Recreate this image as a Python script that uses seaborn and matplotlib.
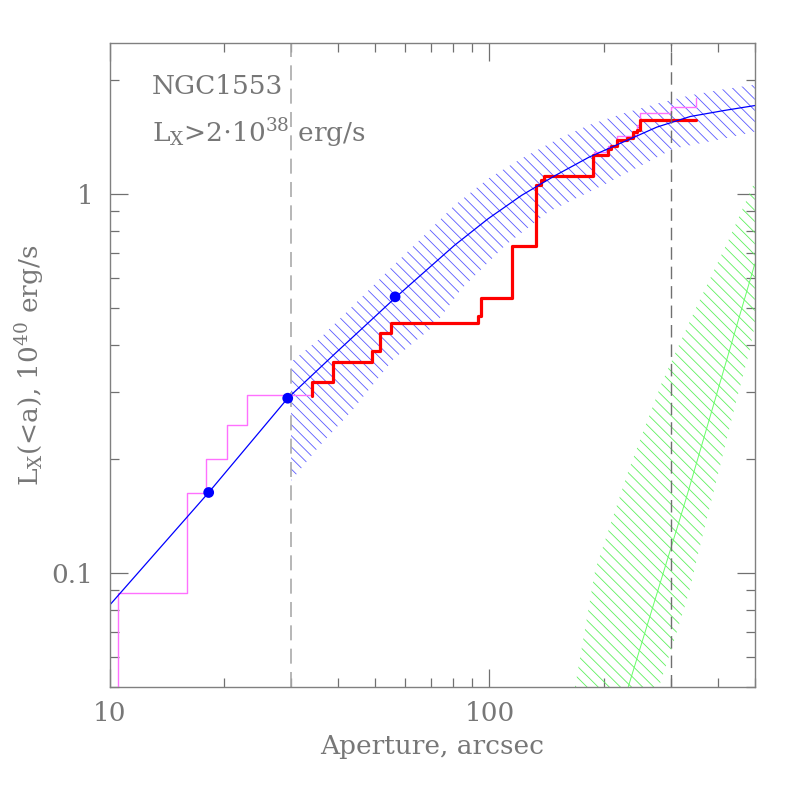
import numpy as np
import pandas as pd
import matplotlib
matplotlib.use('Agg')
import matplotlib.pyplot as plt
from matplotlib.ticker import FuncFormatter, NullFormatter, LogLocator
import seaborn as sns

sns.set_style('ticks')
plt.rcParams['font.family'] = ['DejaVu Serif']
plt.rcParams['mathtext.fontset'] = 'dejavuserif'
plt.rcParams['hatch.linewidth'] = 0.6

# 模型曲线 (蓝色)
model_x = [10, 18.2, 29.4, 39.5, 56.8, 80.8, 99.2, 121.5, 149.5, 183, 225, 276, 338, 416, 500]
model_y = [0.0824, 0.163, 0.289, 0.382, 0.535, 0.731, 0.86, 0.991, 1.12, 1.25, 1.37, 1.50, 1.60, 1.66, 1.71]

# 蓝色点
pts_x = [18.2, 29.4, 56.4]
pts_y = [0.163, 0.289, 0.535]

# 蓝色误差带
band_up_x = [30, 35.6, 43.7, 53.7, 65.9, 80.8, 99.2, 121.5, 149.5, 183, 225, 276, 338, 416, 500]
band_up_y = [0.36, 0.414, 0.507, 0.623, 0.761, 0.932, 1.097, 1.24, 1.386, 1.52, 1.63, 1.73, 1.82, 1.89, 1.94]
band_lo_x = [30, 35.6, 43.7, 55.9, 71.5, 84.3, 110, 143, 203, 306, 416, 500]
band_lo_y = [0.175, 0.216, 0.270, 0.367, 0.449, 0.561, 0.731, 0.897, 1.064, 1.317, 1.40, 1.46]

# 绿色 (背景) 曲线和误差带
bkg_x = [232, 329, 500]
bkg_y = [0.05, 0.156, 0.653]
bkg_up_x = [168, 190, 233, 285, 349, 428, 500]
bkg_up_y = [0.05, 0.102, 0.1875, 0.319, 0.497, 0.761, 1.077]
bkg_lo_x = [279.5, 303, 335.5, 356.6, 403, 446, 483.5, 500]
bkg_lo_y = [0.05, 0.0639, 0.0887, 0.115, 0.1875, 0.282, 0.382, 0.449]

# 累积光度 (红色, L>2e38)
red_x = [34.0, 34.0, 38.7, 48.9, 51.5, 55.0, 93.3, 94.7, 114.3, 132.6, 136.7, 139.5,
         186.9, 204.8, 209, 216.8, 230.4, 238.9, 244.8, 249.8, 349]
red_y = [0.293, 0.319, 0.3605, 0.3855, 0.4287, 0.4555, 0.4754, 0.5315, 0.728, 1.058, 1.086, 1.115,
         1.264, 1.311, 1.335, 1.386, 1.406, 1.458, 1.472, 1.565, 1.565]

# 累积光度 (品红, 全部源)
mag_x = [10.48, 10.48, 15.96, 17.9, 20.3, 23.0, 34.0, 38.7, 48.9, 51.5, 55.0, 93.3, 94.7,
         114.3, 132.6, 136.7, 139.5, 188, 205, 216.8, 244, 249.8, 300, 349, 349]
mag_y = [0.03, 0.0885, 0.1626, 0.2, 0.245, 0.294, 0.319, 0.3605, 0.3855, 0.4287, 0.4555, 0.4754, 0.5315,
         0.728, 1.058, 1.086, 1.115, 1.291, 1.34, 1.425, 1.518, 1.637, 1.69, 1.69, 1.792]

vlines = [30, 300]

fig = plt.figure(figsize=(7.97, 7.97), dpi=100)
ax = fig.add_axes([0.138, 0.138, 0.809, 0.808])
ax.set_xscale('log')
ax.set_yscale('log')

# 误差带
ax.fill(band_up_x + band_lo_x[::-1], band_up_y + band_lo_y[::-1],
        facecolor='none', edgecolor='#5a5aff', hatch='\\\\\\', linewidth=0)
ax.fill(bkg_up_x + bkg_lo_x[::-1], bkg_up_y + bkg_lo_y[::-1],
        facecolor='none', edgecolor='#5ef05e', hatch='\\\\\\', linewidth=0)

sns.lineplot(x=bkg_x, y=bkg_y, ax=ax, color='#66ff66', linewidth=0.7, sort=False, estimator=None)
sns.lineplot(x=mag_x, y=mag_y, ax=ax, color='#ff70ff', linewidth=1.0, sort=False, estimator=None,
             drawstyle='steps-post')
sns.lineplot(x=red_x, y=red_y, ax=ax, color='#ff0000', linewidth=2.3, sort=False, estimator=None,
             drawstyle='steps-post')
sns.lineplot(x=model_x, y=model_y, ax=ax, color='#0000ff', linewidth=0.9, sort=False, estimator=None)
sns.scatterplot(x=pts_x, y=pts_y, ax=ax, color='#0000ff', s=60, edgecolor='none', zorder=5)

ax.axvline(vlines[0], color='#aaaaaa', linestyle=(0, (9, 5)), linewidth=1.2)
ax.axvline(vlines[1], color='#707070', linestyle=(0, (9, 5)), linewidth=1.0)

ax.set_xlim(10, 500)
ax.set_ylim(0.05, 2.5)

fmt = FuncFormatter(lambda v, _: f'{v:g}')
ax.xaxis.set_major_formatter(fmt)
ax.yaxis.set_major_formatter(fmt)
ax.xaxis.set_minor_formatter(NullFormatter())
ax.yaxis.set_minor_formatter(NullFormatter())
ax.yaxis.set_minor_locator(LogLocator(base=10, subs=np.arange(2, 10), numticks=20))
ax.xaxis.set_minor_locator(LogLocator(base=10, subs=np.arange(2, 10), numticks=20))

grey = '#777777'
for s in ax.spines.values():
    s.set_color('#808080')
    s.set_linewidth(1.0)
ax.tick_params(which='both', direction='in', top=True, right=True, colors='#707070',
               labelcolor=grey, labelsize=19)
ax.tick_params(which='major', length=13, width=0.9, pad=10)
ax.tick_params(which='minor', length=6.5, width=0.9)
ax.tick_params(axis='y', which='major', pad=12)

ax.set_xlabel('Aperture, arcsec', fontsize=19, color=grey, labelpad=6)
ax.set_ylabel(r'L$_\mathrm{X}$(<a), 10$^{40}$ erg/s', fontsize=19, color=grey, labelpad=4)

ax.text(0.065, 0.933, 'NGC1553', transform=ax.transAxes, fontsize=19, color=grey,
        ha='left', va='center')
ax.text(0.065, 0.86, r'L$_\mathrm{X}$>2$\cdot$10$^{38}$ erg/s', transform=ax.transAxes,
        fontsize=19, color=grey, ha='left', va='center')

fig.savefig('out.png', dpi=100)
